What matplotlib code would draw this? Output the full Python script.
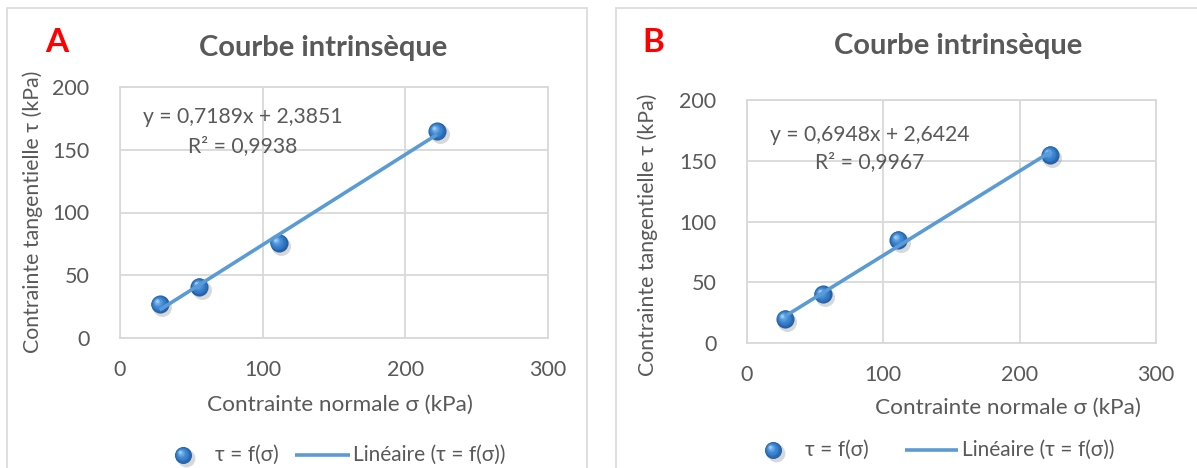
import matplotlib
matplotlib.use("Agg")
import matplotlib.pyplot as plt
from matplotlib.patches import Rectangle
import matplotlib.transforms as mtransforms
import matplotlib.colors as mcolors
import numpy as np

plt.rcParams['font.family'] = ['Lato', 'DejaVu Sans']

sigma_A = [27.8, 55.6, 111.1, 222.2]
tau_A = [27, 41, 76, 165]
slope_A, icpt_A, r2_A = 0.7189, 2.3851, 0.9938

sigma_B = [27.8, 55.6, 111.1, 222.2]
tau_B = [20, 40, 85, 155]
slope_B, icpt_B, r2_B = 0.6948, 2.6424, 0.9967

xticks = [0, 100, 200, 300]
yticks = [0, 50, 100, 150, 200]
title = "Courbe intrinsèque"
xlabel = "Contrainte normale σ (kPa)"
ylabel = "Contrainte tangentielle τ (kPa)"
leg_pts = "τ = f(σ)"
leg_line = "Linéaire (τ = f(σ))"

W, H = 1197, 468
fig = plt.figure(figsize=(W / 100, H / 100), dpi=100)

TXT = '#595959'
GRID = '#d9d9d9'
LINE = '#5b9bd5'
DARK = np.array(mcolors.to_rgb('#2460a8'))
MID = np.array(mcolors.to_rgb('#3f8ad6'))
LIGHT = np.array(mcolors.to_rgb('#9fcdf4'))


def fx(px):
    return px / W


def fy(py):
    return 1 - py / H


# panel frames
for (x0, x1) in [(7, 587), (616, 1205)]:
    fig.patches.append(Rectangle((fx(x0), fy(470)), fx(x1 - x0), fy(8) - fy(470),
                                 transform=fig.transFigure, fill=False,
                                 edgecolor=GRID, linewidth=1.2))


def shade(f):
    if f < 0.5:
        g = f / 0.5
        return DARK * (1 - g) + MID * g
    g = (f - 0.5) / 0.5
    return MID * (1 - g ** 1.5) + LIGHT * g ** 1.5


def spheres(trans_base, xs, ys, size=170, artist=None):
    target = artist
    sh = mtransforms.offset_copy(trans_base, fig=fig, x=1.8, y=-2.2, units='points')
    target.scatter(xs, ys, s=size * 1.1, color='#808080', alpha=0.3, transform=sh, zorder=3,
                   linewidths=0)
    n = 10
    for i in range(n):
        f = i / (n - 1)
        scale = (1 - 0.85 * f) ** 2
        off = 2.2 * f
        t = mtransforms.offset_copy(trans_base, fig=fig, x=-off, y=off, units='points')
        target.scatter(xs, ys, s=size * scale, color=shade(f), transform=t,
                       zorder=4 + i * 0.01, linewidths=0)


def panel(box, xs, ys, slope, icpt, r2, letter, letter_xy, title_xy, eq_xy, r2_xy,
          xlab_xy, ylab_xy, leg):
    left, top, right, bottom = box
    ax = fig.add_axes([fx(left), fy(bottom), fx(right - left), fy(top) - fy(bottom)])
    ax.set_xlim(0, 300)
    ax.set_ylim(0, 200)
    ax.set_xticks(xticks)
    ax.set_yticks(yticks)
    ax.grid(True, color=GRID, linewidth=1.3)
    ax.set_axisbelow(True)
    for s in ax.spines.values():
        s.set_color(GRID)
        s.set_linewidth(1.3)
    ax.tick_params(length=0, labelsize=15.5, colors=TXT)
    ax.tick_params(axis='x', pad=16)
    ax.tick_params(axis='y', pad=22)
    xx = np.array([min(xs), max(xs)])
    ax.plot(xx, slope * xx + icpt, color=LINE, linewidth=2.6, zorder=4.5, solid_capstyle='butt')
    spheres(ax.transData, xs, ys, artist=ax)
    eq = f"y = {slope:.4f}x + {icpt:.4f}".replace('.', ',')
    rr = f"R² = {r2:.4f}".replace('.', ',')
    fig.text(fx(eq_xy[0]), fy(eq_xy[1]), eq, ha='center', va='center', fontsize=15.2, color=TXT)
    fig.text(fx(r2_xy[0]), fy(r2_xy[1]), rr, ha='center', va='center', fontsize=15.2, color=TXT)
    fig.text(fx(title_xy[0]), fy(title_xy[1]), title, ha='center', va='center', fontsize=21,
             fontweight='bold', color=TXT)
    fig.text(fx(letter_xy[0]), fy(letter_xy[1]), letter, ha='center', va='center', fontsize=24,
             fontweight='bold', color='#ff0000')
    fig.text(fx(xlab_xy[0]), fy(xlab_xy[1]), xlabel, ha='center', va='center', fontsize=16.2,
             color=TXT)
    fig.text(fx(ylab_xy[0]), fy(ylab_xy[1]), ylabel, ha='center', va='center', fontsize=15.3,
             color=TXT, rotation=90)
    # legend (drawn manually)
    mx, ly, tx1, lx0, lx1, tx2 = leg
    lax = fig.add_axes([0, 0, 1, 1], facecolor='none')
    lax.set_axis_off()
    lax.set_xlim(0, W)
    lax.set_ylim(H, 0)
    spheres(lax.transData, [mx], [ly], size=150, artist=lax)
    lax.plot([lx0, lx1], [ly, ly], color=LINE, linewidth=2.6, solid_capstyle='butt')
    lax.text(tx1, ly, leg_pts, ha='left', va='center', fontsize=15, color=TXT)
    lax.text(tx2, ly, leg_line, ha='left', va='center', fontsize=15, color=TXT)
    return ax


panel((120, 87, 548, 338), sigma_A, tau_A, slope_A, icpt_A, r2_A, 'A', (57, 43), (323, 48),
      (243, 117), (243, 146), (340, 405), (33, 212), (183, 455, 215, 295, 350, 353))
panel((747, 100, 1156, 343), sigma_B, tau_B, slope_B, icpt_B, r2_B, 'B', (653, 43), (958, 46),
      (870, 135), (870, 162), (1008, 408), (648, 235), (773, 450, 805, 905, 958, 962))

fig.savefig('out.png', dpi=100, facecolor='white')
